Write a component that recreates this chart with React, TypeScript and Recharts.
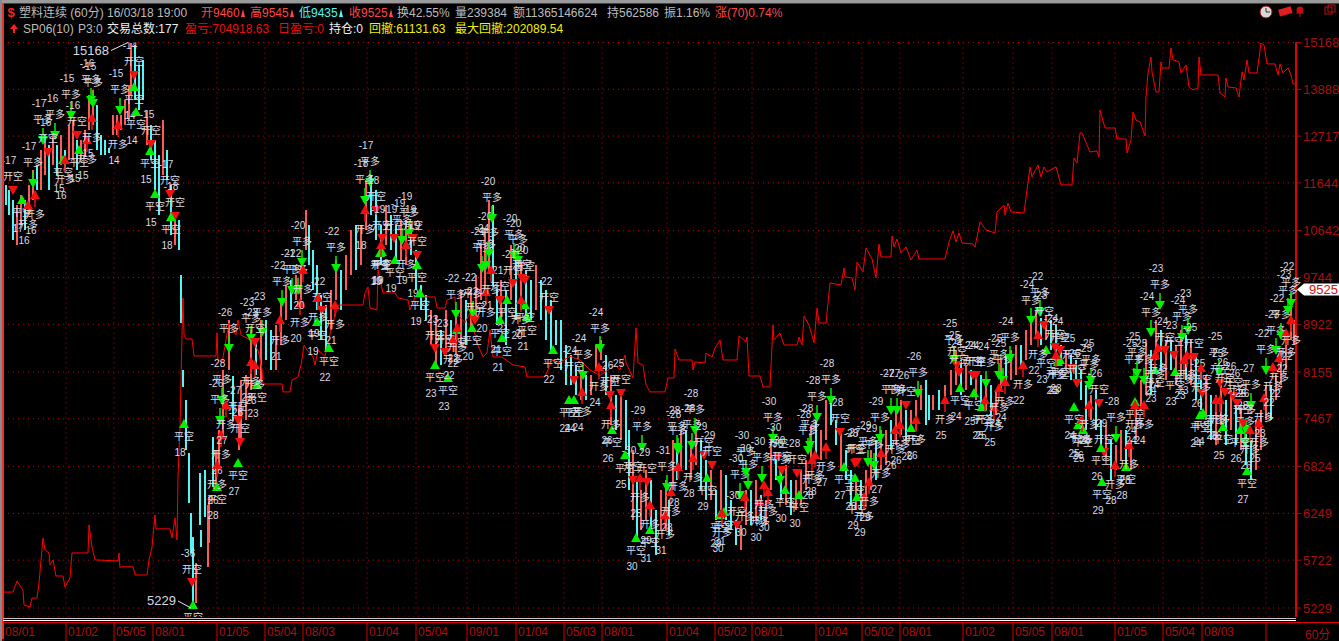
import { Bar, CartesianGrid, ComposedChart, Line, ReferenceDot, Scatter, XAxis, YAxis } from 'recharts';

// y axis: the terminal's 13 log-spaced price levels
const priceTicks = [15168, 13888, 12717, 11644, 10642, 9744, 8922, 8155, 7467, 6824, 6249, 5722, 5229];
const priceFloor = 5141;
const lastClose = 9525;
const peak = { x: 130, value: 15168 };
const trough = { x: 193, value: 5229 };

const dateTicks = [3, 66, 114, 153, 217, 265, 303, 367, 416, 467, 516, 564, 602, 667, 715, 752, 816, 862, 900, 963, 1013, 1052, 1115, 1163, 1202, 1266];
const dateLabels = ['08/01', '01/02', '05/05', '08/01', '01/05', '05/04', '08/03', '01/04', '05/04', '09/01', '01/04', '05/03', '08/01', '01/04', '05/02', '08/01', '01/04', '05/02', '08/01', '01/02', '05/05', '08/01', '01/05', '05/04', '08/03', ''];

// [x, low, high, rising]
const priceBars = [
  [5, 11170, 11598, 0], [8, 10962, 11490, 0], [12, 10457, 11276, 0], [16, 10359, 11170, 1], [20, 10757, 11382, 1], [24, 10656, 11276, 0], [28, 10962, 11598, 1], [32, 11276, 11931, 1], [36, 11490, 12044, 0], [40, 11490, 12389, 1],
  [44, 11819, 12744, 1], [48, 11490, 12506, 0], [52, 12044, 12744, 1], [56, 11819, 12506, 0], [60, 12044, 12744, 1], [64, 11931, 12389, 0], [68, 12158, 12986, 1], [72, 12158, 13109, 1], [76, 11931, 12624, 0], [80, 12158, 12624, 1],
  [84, 12273, 12864, 1], [88, 12864, 13741, 1], [92, 12986, 13871, 1], [96, 12389, 13485, 0], [100, 12273, 12744, 0], [104, 12273, 12624, 0], [108, 12320, 12436, 0], [112, 12744, 13233, 1], [116, 12744, 13233, 1], [120, 12864, 13233, 1],
  [124, 12986, 13612, 1], [128, 13109, 14002, 1], [130, 13741, 15153, 1], [134, 13612, 15097, 0], [138, 13358, 14540, 0], [142, 13612, 14677, 0], [146, 12506, 13358, 1], [150, 12158, 12986, 0], [154, 11490, 12624, 0], [158, 10962, 12273, 0],
  [162, 11819, 13109, 1], [166, 11708, 12389, 0], [170, 10556, 11598, 0], [174, 10359, 10962, 1], [178, 10262, 10859, 0], [180, 8943, 9790, 0], [182, 7929, 8186, 0], [185, 7041, 7737, 0], [188, 6373, 7000, 0], [190, 5800, 6255, 0],
  [192, 5279, 5978, 0], [195, 5279, 5693, 1], [199, 6115, 6743, 0], [200, 5865, 6057, 0], [204, 6208, 6781, 0], [207, 5651, 6349, 1], [208, 5910, 6445, 1], [212, 6568, 7216, 0], [215, 6593, 7041, 1], [218, 6781, 7310, 1],
  [222, 7216, 8186, 1], [228, 8186, 8994, 1], [232, 7451, 8094, 0], [238, 7041, 7665, 1], [240, 7175, 8034, 1], [245, 7451, 8110, 1], [250, 7884, 8827, 1], [255, 8110, 8662, 0], [260, 8034, 8994, 1], [265, 8342, 8994, 0],
  [270, 8186, 8827, 0], [275, 8186, 8910, 1], [280, 8581, 9340, 1], [285, 8994, 9607, 1], [290, 9165, 9698, 0], [295, 9340, 9790, 1], [300, 9340, 9977, 1], [305, 10262, 11065, 1], [308, 9977, 10757, 0], [312, 9517, 10262, 0],
  [316, 9165, 9977, 0], [320, 8662, 9428, 0], [325, 8500, 9252, 0], [330, 8827, 9517, 1], [335, 9340, 10071, 1], [340, 9165, 9883, 0], [345, 9517, 10166, 1], [350, 9790, 10656, 1], [355, 9883, 10757, 0], [360, 9977, 10757, 1],
  [365, 10656, 11708, 1], [370, 10962, 11819, 0], [375, 10457, 11490, 0], [380, 9977, 10757, 0], [385, 10359, 11170, 1], [390, 10262, 10962, 0], [395, 10071, 10757, 0], [400, 10071, 10859, 1], [405, 9977, 10859, 1], [410, 10166, 10757, 0],
  [415, 9517, 10262, 0], [420, 9165, 9607, 0], [425, 8994, 9428, 0], [430, 8581, 9165, 1], [435, 8264, 9079, 1], [440, 8264, 8827, 0], [445, 8500, 9165, 1], [450, 8581, 8994, 0], [455, 8421, 9165, 1], [460, 8581, 9517, 1],
  [465, 8581, 9340, 0], [470, 8827, 9517, 1], [475, 8994, 9790, 1], [480, 9340, 10359, 1], [484, 9517, 10656, 1], [488, 9883, 11276, 1], [492, 9607, 11170, 0], [496, 8910, 9517, 0], [500, 8994, 9698, 1], [505, 8581, 9517, 0],
  [510, 9340, 10359, 1], [515, 8994, 10071, 0], [520, 9165, 10071, 1], [525, 9079, 9883, 0], [530, 8994, 9698, 0], [535, 9165, 9977, 1], [540, 8994, 9698, 0], [545, 8662, 9517, 0], [550, 8500, 9340, 0], [555, 8581, 8994, 0],
  [560, 8186, 8994, 0], [565, 7959, 8581, 0], [570, 7959, 8421, 0], [575, 7810, 8264, 0], [580, 7737, 8186, 1], [585, 7737, 8110, 0], [590, 7810, 8110, 1], [595, 8186, 8581, 1], [600, 8342, 8662, 1], [605, 7810, 8421, 0],
  [610, 7381, 8110, 1], [615, 7312, 7810, 0], [620, 7175, 7810, 1], [625, 7041, 7737, 0], [628, 6531, 7312, 0], [632, 6172, 7041, 1], [636, 5944, 6655, 0], [640, 6057, 6531, 1], [645, 6172, 6781, 1], [650, 6057, 6655, 0],
  [655, 5778, 6289, 0], [660, 6057, 6531, 1], [665, 6057, 6655, 1], [668, 6000, 6409, 0], [672, 6531, 7175, 1], [676, 6655, 7041, 0], [680, 6781, 7312, 1], [685, 6781, 7312, 0], [690, 6655, 7175, 1], [695, 6845, 7312, 1],
  [700, 6531, 7175, 0], [705, 6409, 6910, 0], [710, 6409, 6781, 1], [715, 6172, 6531, 0], [720, 6289, 6781, 1], [725, 6172, 6718, 0], [730, 6057, 6409, 0], [735, 5888, 6172, 0], [740, 5833, 6115, 1], [745, 6115, 6531, 1],
  [750, 6115, 6531, 0], [755, 6172, 6655, 1], [760, 6172, 6470, 0], [765, 6115, 6409, 1], [770, 6531, 7175, 1], [775, 6655, 6910, 0], [780, 6409, 6781, 0], [785, 6349, 6845, 1], [790, 6230, 6655, 0], [795, 6289, 6655, 1],
  [800, 6349, 6781, 1], [805, 6531, 6910, 1], [810, 6910, 7381, 1], [815, 6975, 7451, 0], [820, 6910, 7312, 1], [825, 7175, 7737, 1], [830, 7381, 7737, 0], [835, 7108, 7451, 0], [840, 6781, 7312, 1], [845, 6655, 7041, 0],
  [850, 6349, 6781, 0], [855, 6289, 6655, 1], [860, 6289, 6655, 0], [865, 6409, 6781, 1], [870, 6531, 7041, 1], [875, 6655, 7175, 0], [880, 6781, 7312, 1], [885, 6845, 7312, 1], [890, 7041, 7451, 0], [895, 7108, 7592, 1],
  [900, 7244, 7737, 1], [905, 7175, 7592, 0], [910, 7312, 7592, 1], [915, 7312, 7737, 1], [920, 7592, 7959, 1], [925, 7381, 8034, 0], [928, 7451, 7810, 0], [932, 7592, 7810, 1], [938, 7592, 7884, 0], [944, 7737, 7959, 1],
  [950, 7810, 8186, 1], [955, 7959, 8500, 1], [960, 7810, 8342, 0], [965, 7884, 8264, 1], [970, 7959, 8186, 0], [975, 7737, 8110, 1], [980, 7665, 8110, 0], [985, 7592, 7959, 1], [990, 7522, 7959, 0], [995, 7522, 7884, 1],
  [1000, 7884, 8342, 1], [1005, 7959, 8421, 0], [1010, 8034, 8500, 1], [1015, 8110, 8581, 1], [1020, 8264, 8581, 0], [1025, 8342, 8827, 1], [1030, 8581, 8994, 1], [1035, 8744, 9165, 1], [1040, 8581, 9028, 0], [1045, 8662, 9079, 1],
  [1050, 8500, 8994, 0], [1055, 8264, 8910, 0], [1060, 8264, 8581, 0], [1065, 8186, 8500, 1], [1070, 8034, 8421, 0], [1075, 7959, 8342, 0], [1080, 7737, 8186, 0], [1085, 7312, 7959, 0], [1090, 7451, 7810, 1], [1095, 7312, 7884, 0],
  [1100, 7041, 7451, 0], [1105, 6910, 7381, 1], [1110, 6655, 7175, 0], [1115, 6781, 7108, 1], [1120, 6910, 7312, 1], [1125, 6845, 7312, 0], [1130, 6781, 7175, 1], [1135, 7175, 7737, 1], [1140, 7592, 8034, 1], [1145, 7810, 8662, 1],
  [1150, 7810, 8500, 0], [1155, 8342, 8994, 1], [1160, 8186, 8827, 0], [1165, 8034, 8662, 1], [1170, 8186, 8662, 0], [1175, 7959, 8581, 1], [1180, 8110, 8827, 1], [1185, 8034, 8744, 0], [1190, 7959, 8662, 1], [1195, 7737, 8421, 0],
  [1200, 7592, 8186, 0], [1205, 7451, 8110, 1], [1210, 7175, 7810, 0], [1215, 7108, 7810, 1], [1220, 7381, 7959, 1], [1225, 7108, 7737, 0], [1230, 7312, 7884, 1], [1235, 7108, 7665, 0], [1240, 7041, 7592, 1], [1245, 6845, 7312, 0],
  [1250, 6655, 7175, 0], [1255, 6781, 7451, 1], [1260, 7041, 7592, 1], [1265, 7451, 7959, 1], [1270, 7451, 7959, 0], [1275, 7737, 8110, 1], [1280, 7959, 8500, 1], [1285, 8186, 8827, 1], [1290, 8662, 9428, 1], [1293, 8581, 8994, 1],
];

// equity curve: [x, level]
const equityCurve = [
  [3, 5388], [13, 5388], [17, 5502], [23, 5409], [24, 5259], [30, 5239], [32, 5328], [37, 5328], [39, 5481], [43, 5966], [45, 5833], [49, 5800], [50, 5672], [53, 5724], [56, 5554], [63, 5554], [65, 5440], [70, 5533], [72, 5800], [78, 5800],
  [88, 5800], [89, 6115], [92, 5865], [95, 5724], [118, 5714], [119, 5800], [120, 5640], [121, 5651], [133, 5651], [135, 5564], [147, 5564], [149, 5724], [152, 5865], [155, 6230], [156, 6069], [170, 6069], [172, 5966], [175, 6195], [177, 5944], [178, 6693],
  [180, 7353], [182, 8744], [183, 9375], [184, 8744], [186, 8678], [192, 8678], [194, 8405], [216, 8405], [217, 8777], [218, 8342], [222, 8300], [229, 8943], [236, 8744], [238, 8994], [241, 8744], [250, 8662], [258, 8500], [262, 8200], [263, 7973], [282, 7973],
  [283, 7855], [290, 7855], [292, 8034], [298, 8079], [301, 8264], [304, 8581], [307, 8500], [313, 8389], [315, 8264], [318, 8500], [325, 8400], [332, 8900], [338, 9250], [345, 9252], [363, 9252], [365, 9464], [368, 9570], [370, 9200], [377, 9165], [378, 9883],
  [383, 9464], [395, 9464], [398, 9375], [408, 9340], [410, 9165], [415, 9393], [435, 9393], [437, 9200], [445, 9200], [447, 9340], [455, 9393], [456, 9079], [458, 9079], [465, 8950], [470, 9113], [477, 8614], [483, 8389], [487, 8452], [490, 8827], [493, 8389],
  [502, 8389], [513, 8264], [525, 8233], [527, 8079], [545, 8079], [552, 8342], [560, 8300], [570, 8400], [580, 8342], [590, 8186], [600, 8100], [608, 8186], [615, 8264], [620, 8189], [625, 8421], [626, 8300], [633, 8064], [636, 8860], [638, 8295], [643, 8264],
  [646, 7959], [650, 7855], [665, 7855], [668, 8064], [674, 8064], [675, 8516], [679, 8342], [692, 8342], [693, 8186], [695, 8311], [705, 8295], [706, 8452], [712, 8389], [715, 8530], [720, 8662], [723, 8342], [737, 8342], [739, 8727], [746, 8630], [747, 8711],
  [749, 8094], [760, 8094], [763, 7929], [770, 7929], [773, 8910], [774, 8662], [780, 8777], [784, 8581], [797, 8581], [799, 8711], [802, 8581], [804, 9062], [809, 8910], [814, 8614], [817, 9200], [819, 8943], [826, 8943], [830, 9643], [841, 9606], [844, 9920],
  [845, 9755], [852, 9736], [855, 9517], [857, 10033], [863, 9846], [866, 10301], [872, 10090], [876, 9736], [879, 10379], [881, 10128], [891, 10128], [892, 10537], [894, 10320], [897, 10477], [901, 10205], [906, 10320], [911, 10071], [917, 10262], [919, 10090], [945, 10090],
  [949, 10418], [953, 10636], [956, 10418], [959, 10597], [962, 10398], [973, 10379], [975, 10320], [980, 10818], [986, 10656], [995, 10597], [997, 11024], [1004, 11170], [1005, 10962], [1008, 11212], [1011, 11024], [1024, 11003], [1030, 12000], [1032, 11775], [1038, 12044], [1041, 11775],
  [1044, 12000], [1047, 11886], [1056, 12000], [1061, 11600], [1072, 11600], [1074, 12204], [1077, 12089], [1080, 12792], [1082, 12792], [1087, 12506], [1090, 12343], [1097, 12366], [1099, 12227], [1100, 13358], [1105, 12912], [1115, 12912], [1117, 12648], [1126, 12648], [1127, 12320], [1131, 12624],
  [1133, 13308], [1136, 13109], [1140, 13061], [1145, 12720], [1146, 13689], [1148, 14322], [1151, 14760], [1152, 14349], [1156, 13819], [1159, 13819], [1161, 14622], [1162, 14457], [1169, 14457], [1171, 15013], [1173, 14677], [1179, 14622], [1181, 14322], [1186, 14540], [1189, 13949], [1193, 13871],
  [1198, 13923], [1199, 14760], [1201, 14268], [1218, 14268], [1220, 13793], [1225, 13689], [1226, 14187], [1228, 13949], [1236, 13923], [1239, 13689], [1242, 14349], [1244, 14134], [1247, 14677], [1249, 14322], [1257, 14322], [1261, 15153], [1264, 15097], [1267, 14568], [1275, 14568], [1278, 14268],
  [1280, 14568], [1283, 14322], [1288, 14457], [1291, 14268], [1293, 14028], [1296, 14028],
];

// trade signals: [x, price, running count]
const closeLong = [
  [33, 11642, -17], [43, 12624, -17], [55, 12744, -16], [71, 13233, -15], [91, 13612, -16], [93, 13536, -15], [120, 13358, -15], [222, 7737, -28], [229, 8532, -26], [220, 7451, -26],
  [262, 8793, -23], [251, 8694, -23], [282, 9305, -22], [292, 9517, -21], [298, 9517, -22], [302, 10033, -20], [336, 9920, -22], [370, 11664, -17], [365, 11276, -18], [402, 10457, -19],
  [409, 10597, -19], [456, 9096, -22], [473, 9113, -22], [482, 9920, -21], [486, 9977, -24], [489, 10205, -20], [492, 10900, -20], [514, 10166, -20], [518, 10071, -20], [583, 8110, -24],
  [600, 8532, -24], [642, 7081, -29], [667, 6568, -31], [678, 7041, -28], [677, 7081, -28], [692, 7108, -28], [695, 7312, -28], [740, 6470, -30], [746, 6756, -30], [748, 6593, -30],
  [762, 6680, -30], [773, 7202, -30], [780, 6655, -30], [810, 7108, -28], [817, 7493, -28], [808, 7041, -28], [831, 7737, -28], [868, 6884, -29], [874, 6845, -29], [880, 7202, -29],
  [891, 7592, -27], [897, 7592, -27], [918, 7840, -26], [954, 8342, -25], [986, 7988, -24], [1003, 8034, -25], [999, 8110, -25], [1010, 8374, -24], [1031, 8994, -24], [1040, 9130, -22],
  [1091, 8034, -25], [1089, 7959, -25], [1116, 7202, -28], [1134, 8034, -25], [1144, 8034, -25], [1137, 8140, -25], [1160, 9252, -23], [1151, 8793, -24], [1182, 8711, -24], [1188, 8827, -23],
  [1219, 8155, -25], [1251, 7665, -27], [1246, 7312, -26], [1245, 7148, -28], [1266, 8186, -22], [1276, 8500, -23], [1281, 8744, -22], [1288, 9165, -23], [1291, 9287, -22],
];
const openShort = [
  [13, 11490, -17], [48, 12343, -16], [77, 12744, -16], [134, 14268, -14], [151, 12530, -15], [170, 11403, -17], [175, 10941, -18], [192, 5491, -36], [238, 7451, -27], [240, 7148, -26],
  [255, 8630, -23], [322, 9165, -22], [376, 11065, -18], [382, 10496, -19], [394, 10496, -19], [413, 10496, -19], [417, 10166, -19], [435, 8532, -23], [445, 8468, -23], [475, 8994, -22],
  [500, 9340, -21], [513, 9643, -21], [522, 9736, -20], [525, 9698, -20], [549, 9165, -22], [574, 8034, -24], [610, 7810, -26], [621, 7840, -25], [633, 6655, -30], [647, 6630, -29],
  [704, 6975, -29], [712, 6845, -29], [737, 6115, -30], [778, 6949, -30], [782, 6781, -30], [797, 6743, -28], [840, 7285, -28], [855, 6871, -28], [857, 6884, -27], [906, 7665, -26],
  [957, 8264, -25], [959, 8155, -24], [973, 8110, -24], [976, 8110, -24], [1044, 8910, -23], [1055, 8548, -24], [1060, 8500, -24], [1072, 8217, -25], [1077, 7988, -26], [1099, 7694, -26],
  [1104, 7014, -29], [1165, 8500, -24], [1174, 8421, -23], [1194, 8389, -25], [1202, 7840, -25], [1220, 7988, -25], [1225, 7855, -26], [1233, 7796, -26], [1237, 7694, -26], [1243, 7409, -26],
];
const closeShort = [
  [22, 11276, 17], [63, 12158, 15], [79, 12389, 15], [134, 13949, 14], [136, 13308, 14], [150, 12366, 15], [155, 11403, 15], [171, 10921, 18], [184, 7395, 18], [193, 5259, null],
  [238, 6871, 27], [217, 6568, 28], [257, 7959, 23], [329, 8532, 22], [317, 8960, 19], [382, 10224, 19], [380, 10205, 19], [395, 10071, 19], [417, 9977, 19], [420, 9464, 19],
  [457, 8827, 22], [435, 8264, 23], [448, 8064, 23], [472, 8860, 20], [500, 8994, 21], [502, 8694, 21], [507, 9340, 21], [525, 9252, 21], [527, 9045, 21], [553, 8500, 22],
  [569, 7737, 24], [574, 7737, 24], [612, 7312, 26], [625, 6975, 25], [636, 5966, 30], [650, 6057, 31], [707, 6680, 29], [720, 6230, 29], [724, 6265, 31], [785, 6531, 30],
  [799, 6470, 30], [844, 6820, 27], [855, 6680, 28], [857, 6445, 29], [911, 7339, 26], [960, 7914, 24], [974, 7840, 25], [982, 7636, 25], [1046, 8500, 23], [1058, 8311, 23],
  [1060, 8342, 23], [1074, 7636, 24], [1078, 7381, 25], [1083, 7312, 25], [1102, 6630, 29], [1101, 7068, 26], [1126, 6820, 28], [1135, 7708, 24], [1155, 8186, 23], [1175, 8155, 23],
  [1200, 7522, 24], [1203, 7550, 24], [1223, 7353, 25], [1240, 7312, 26], [1247, 6768, 27],
];
const openLong = [
  [28, 11170, 16], [35, 11382, 16], [65, 12158, 16], [87, 12624, 15], [92, 13158, 15], [118, 12986, 14], [221, 7244, 26], [226, 7665, 27], [217, 6845, 26], [251, 8311, 23],
  [255, 8264, 23], [280, 8994, 21], [300, 9287, 20], [303, 9883, 20], [318, 9375, 19], [335, 9252, 21], [365, 11065, 18], [381, 10359, 19], [406, 10359, 19], [453, 8662, 22],
  [457, 8860, 22], [486, 9481, 20], [491, 9883, 21], [521, 9340, 20], [582, 7855, 24], [599, 8233, 24], [611, 7665, 26], [640, 6680, 25], [650, 6349, 29], [665, 6230, 31],
  [671, 6506, 28], [678, 6820, 28], [693, 6936, 28], [722, 6254, 30], [745, 6445, 30], [760, 6385, 30], [764, 6593, 30], [768, 6506, 30], [812, 6910, 28], [815, 6975, 28],
  [826, 7081, 27], [864, 6445, 29], [869, 6630, 29], [881, 7001, 27], [895, 7312, 26], [900, 7381, 26], [916, 7451, 26], [945, 7737, 25], [985, 7737, 25], [994, 7636, 25],
  [999, 7914, 24], [1005, 8004, 24], [1023, 8264, 22], [1038, 8744, 22], [1056, 8421, 23], [1082, 7451, 26], [1089, 7665, 26], [1115, 6845, 28], [1129, 7108, 28], [1135, 7665, 24],
  [1144, 7665, 24], [1158, 8532, 24], [1155, 8421, 24], [1184, 8342, 23], [1187, 8421, 23], [1201, 8217, 26], [1216, 7737, 26], [1220, 7737, 26], [1250, 7312, 26], [1259, 7409, 25],
  [1264, 7767, 23], [1273, 8233, 22], [1279, 8374, 22], [1286, 8777, 22], [1291, 8994, 22],
];

const chartData = (() => {
  const rows = new Map<number, any>();
  const row = (x: number) => {
    if (!rows.has(x)) rows.set(x, { x });
    return rows.get(x);
  };
  priceBars.forEach(([x, low, high, rising]) => {
    row(x).range = [low, high];
    row(x).rising = rising;
  });
  equityCurve.forEach(([x, level]) => {
    row(x).equity = level;
  });
  return [...rows.values()].sort((a, b) => a.x - b.x);
})();

const toRows = (list: (number | null)[][]) => list.map(([x, price, count]) => ({ x, price, count }));

const FONT = '"Liberation Sans", "Noto Sans CJK SC", sans-serif';
const AXIS_RED = '#a81010';
const LABEL = '#dcdce4';

// candle-ish bar, skipped on rows which only carry an equity point
const PriceBar = (props: any) => {
  if (!props.payload.range) return null;
  return (
    <rect
      x={Math.round(props.x)}
      y={props.y}
      width={2}
      height={props.height}
      fill={props.payload.rising ? '#ff5a5a' : '#55f5f5'}
      shapeRendering="crispEdges"
    />
  );
};

const signalShape = (word: string, above: boolean, color: string, stem: boolean) => (props: any) => {
  const { cx, cy, payload } = props;
  if (cx == null || cy == null) return null;
  const tip = above ? cy + 5 : cy - 5;
  const base = above ? cy - 4 : cy + 4;
  const dir = above ? -1 : 1;
  const textY = cy + dir * (stem ? 20 : 13);
  const numY = cy + dir * (stem ? 36 : 29);
  return (
    <g fontFamily={FONT} fontSize={10} fill={LABEL}>
      {stem && <line x1={cx} x2={cx} y1={base} y2={base + dir * 8} stroke={color} strokeWidth={1.5} />}
      <polygon points={`${cx - 5},${base} ${cx + 5},${base} ${cx},${tip}`} fill={color} />
      <text x={cx} y={textY} textAnchor="middle" dominantBaseline="central">{word}</text>
      {payload.count != null && (
        <text x={cx - 4} y={numY} textAnchor="middle" dominantBaseline="central">{payload.count}</text>
      )}
    </g>
  );
};

const DateTick = (props: any) => {
  const { x, y, payload } = props;
  const label = dateLabels[dateTicks.indexOf(payload.value)];
  return (
    <g>
      <line x1={x} x2={x} y1={y + 5} y2={y + 24} stroke="#d00000" />
      <text x={x + 2} y={y + 15} dominantBaseline="central" fontFamily={FONT} fontSize={12} fill={AXIS_RED}>{label}</text>
    </g>
  );
};

const Callout = (props: any) => {
  const { cx, cy, text, dx, dy } = props;
  return (
    <g>
      <line x1={cx + dx + 19} y1={cy + dy} x2={cx - 2} y2={cy} stroke="#e8e8e8" />
      <text x={cx + dx + 17} y={cy + dy} textAnchor="end" dominantBaseline="central" fontFamily={FONT} fontSize={13} fill="#d8d8e0">{text}</text>
    </g>
  );
};

const LastTag = (props: any) => {
  const { cx, cy } = props;
  return (
    <g>
      <polygon points={`${cx + 1},${cy} ${cx + 8},${cy - 6} ${cx + 43},${cy - 6} ${cx + 43},${cy + 6} ${cx + 8},${cy + 6}`} fill="#ffffff" />
      <text x={cx + 13} y={cy} dominantBaseline="central" fontFamily={FONT} fontSize={13} fill="#d01010">{lastClose}</text>
    </g>
  );
};

const headerRowOne = [
  { x: 19, text: '塑料连续 (60分) 16/03/18 19:00', color: '#bcbcbc' },
  { x: 201, text: '开9460', color: '#ff4646' },
  { x: 250, text: '高9545', color: '#ff4646' },
  { x: 299, text: '低9435', color: '#55f5f5' },
  { x: 349, text: '收9525', color: '#ff4646' },
  { x: 397, text: '换42.55%', color: '#bcbcbc' },
  { x: 455, text: '量239384', color: '#bcbcbc' },
  { x: 513, text: '额11365146624', color: '#bcbcbc' },
  { x: 607, text: '持562586', color: '#bcbcbc' },
  { x: 664, text: '振1.16%', color: '#bcbcbc' },
  { x: 715, text: '涨(70)0.74%', color: '#ff4646' },
];
const headerRowTwo = [
  { x: 23, text: 'SP06(10)', color: '#bcbcbc' },
  { x: 78, text: 'P3:0', color: '#bcbcbc' },
  { x: 107, text: '交易总数:177', color: '#f0f0f0' },
  { x: 185, text: '盈亏:704918.63', color: '#e81010' },
  { x: 278, text: '日盈亏:0', color: '#e81010' },
  { x: 329, text: '持仓:0', color: '#f0f0f0' },
  { x: 369, text: '回撤:61131.63', color: '#f0f000' },
  { x: 455, text: '最大回撤:202089.54', color: '#f0f000' },
];
const tickMarks = [
  { x: 243, color: '#ff4646' },
  { x: 292, color: '#ff4646' },
  { x: 341, color: '#55f5f5' },
  { x: 391, color: '#ff4646' },
];

const HeaderText = ({ x, y, text, color }: { x: number; y: number; text: string; color: string }) => (
  <span style={{ position: 'absolute', left: x, top: y, color, fontFamily: FONT, fontSize: 12, lineHeight: '14px', whiteSpace: 'nowrap' }}>{text}</span>
);

const Strip = ({ x, y, w, h, color }: { x: number; y: number; w: number; h: number; color: string }) => (
  <div style={{ position: 'absolute', left: x, top: y, width: w, height: h, background: color }} />
);

export default function App() {
  return (
    <div style={{ position: 'absolute', left: 0, top: 0, width: 1339, height: 641, background: '#000', overflow: 'hidden' }}>
      <div style={{ position: 'absolute', left: 0, top: 0 }}>
        <ComposedChart
          width={1339}
          height={641}
          data={chartData}
          margin={{ top: 42.5, right: 0, bottom: 0, left: 3 }}
        >
          <CartesianGrid stroke="#c00000" strokeDasharray="1 4" />
          <XAxis
            dataKey="x"
            type="number"
            domain={[3, 1296]}
            ticks={dateTicks}
            interval={0}
            height={24}
            axisLine={false}
            tickLine={false}
            tickSize={0}
            tickMargin={0}
            tick={<DateTick />}
          />
          <YAxis
            orientation="right"
            type="number"
            scale="log"
            domain={[priceFloor, 15168]}
            ticks={priceTicks}
            interval={0}
            allowDataOverflow
            width={43}
            axisLine={{ stroke: '#e00000', strokeWidth: 2 }}
            tickLine={{ stroke: AXIS_RED }}
            tickSize={5}
            tickMargin={2}
            tick={{ fill: AXIS_RED, fontSize: 13, fontFamily: FONT }}
          />
          <Line dataKey="equity" stroke="#ff0000" strokeWidth={1} dot={false} connectNulls isAnimationActive={false} />
          <Bar dataKey="range" barSize={2} shape={<PriceBar />} isAnimationActive={false} />
          <Scatter data={toRows(closeLong)} dataKey="price" shape={signalShape('平多', true, '#00f000', true)} isAnimationActive={false} />
          <Scatter data={toRows(openShort)} dataKey="price" shape={signalShape('开空', true, '#f01010', false)} isAnimationActive={false} />
          <Scatter data={toRows(closeShort)} dataKey="price" shape={signalShape('平空', false, '#00f000', false)} isAnimationActive={false} />
          <Scatter data={toRows(openLong)} dataKey="price" shape={signalShape('开多', false, '#f01010', true)} isAnimationActive={false} />
          <ReferenceDot x={peak.x} y={peak.value} ifOverflow="visible" shape={<Callout text={peak.value} dx={-38} dy={8} />} />
          <ReferenceDot x={trough.x} y={trough.value} ifOverflow="visible" shape={<Callout text={trough.value} dx={-34} dy={-7} />} />
          <ReferenceDot x={1296} y={lastClose} ifOverflow="visible" shape={<LastTag />} />
        </ComposedChart>
      </div>

      {/* terminal frame, drawn over the chart edges */}
      <Strip x={0} y={0} w={1339} h={3} color="#9a9a9a" />
      <Strip x={0} y={3} w={1339} h={1} color="#c01010" />
      <Strip x={4} y={4} w={1335} h={30} color="#000" />
      <Strip x={0} y={0} w={2} h={641} color="#8a8a8a" />
      <Strip x={2} y={3} w={2} h={636} color="#e83030" />
      <Strip x={4} y={617} w={1293} h={5} color="#000" />
      <Strip x={3} y={618} w={1293} h={1} color="#c8c8c8" />
      <Strip x={3} y={620} w={1293} h={1} color="#ffffff" />
      <Strip x={3} y={622} w={1336} h={1} color="#e00000" />

      {headerRowOne.map((d) => <HeaderText key={d.x} x={d.x} y={6} text={d.text} color={d.color} />)}
      {headerRowTwo.map((d) => <HeaderText key={d.x} x={d.x} y={22} text={d.text} color={d.color} />)}
      <span style={{ position: 'absolute', left: 1305, top: 625, color: AXIS_RED, fontFamily: FONT, fontSize: 12 }}>60分</span>

      <svg width={1339} height={40} style={{ position: 'absolute', left: 0, top: 0 }}>
        {tickMarks.map((m) => <polygon key={m.x} points={`${m.x - 2},17 ${m.x + 2},17 ${m.x},9`} fill={m.color} />)}
        <text x={11} y={17} textAnchor="middle" fontFamily={FONT} fontSize={13} fontWeight="bold" fill="#ff2020">$</text>
        <polygon points={`14,24 10,29 13,29 13,33 15,33 15,29 18,29`} fill="#ff2020" />
        {/* toolbar icons */}
        <circle cx={1266} cy={12} r={6} fill="#d8d8d8" stroke="#a01010" />
        <path d="M1266 8 V12 H1270" stroke="#333" fill="none" />
        <rect x={1279} y={8} width={13} height={7} fill="#e02020" transform="rotate(-15 1285 12)" />
        <circle cx={1300} cy={10} r={3.5} fill="#c01010" />
        <path d="M1300 12 V17 M1296 13 H1304" stroke="#c01010" />
        <rect x={1325} y={7} width={7} height={7} fill="none" stroke="#c01010" />
        <rect x={1328} y={5} width={7} height={7} fill="none" stroke="#c01010" />
      </svg>
    </div>
  );
}
